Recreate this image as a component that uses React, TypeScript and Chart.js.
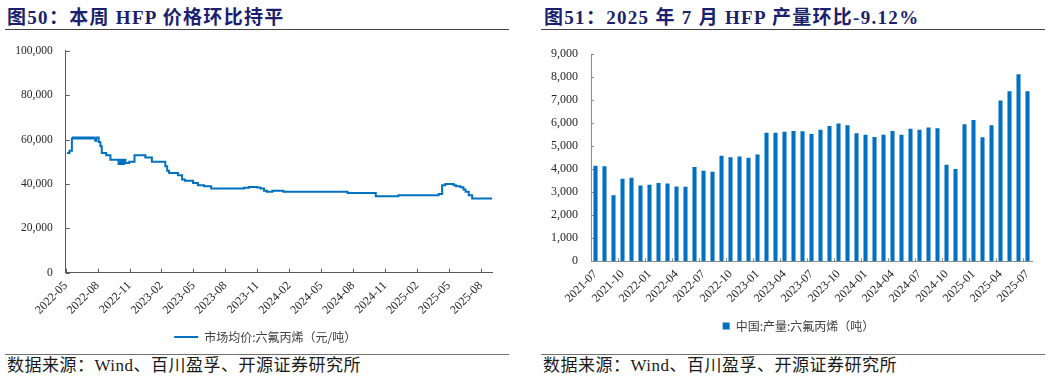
import React, { useEffect, useRef } from "react";
import { Chart, registerables } from "chart.js";

Chart.register(...registerables);

// ---------- Data: HFP market price (元/吨), change points ----------
const priceDates = [
  "2022-05-05", "2022-05-12", "2022-05-19", "2022-05-22", "2022-05-26", "2022-05-29",
  "2022-06-02", "2022-06-05", "2022-06-09", "2022-06-12", "2022-06-16", "2022-06-19",
  "2022-06-23", "2022-06-26", "2022-06-30", "2022-07-03", "2022-07-07", "2022-07-10",
  "2022-07-14", "2022-07-17", "2022-07-21", "2022-07-25", "2022-07-28", "2022-08-04",
  "2022-08-09", "2022-08-13", "2022-08-26", "2022-09-07", "2022-09-30", "2022-10-06",
  "2022-10-11", "2022-10-16", "2022-10-20", "2022-10-31", "2022-11-15", "2022-12-16",
  "2023-01-04", "2023-02-11", "2023-02-16", "2023-02-21", "2023-03-18", "2023-03-30",
  "2023-04-07", "2023-04-30", "2023-05-14", "2023-06-01", "2023-06-21", "2023-09-24",
  "2023-10-08", "2023-10-31", "2023-11-10", "2023-11-20", "2023-11-28", "2023-12-14",
  "2024-01-15", "2024-07-16", "2024-10-05", "2024-12-09", "2025-04-02", "2025-04-12",
  "2025-04-21", "2025-05-15", "2025-05-22", "2025-06-04", "2025-06-12", "2025-06-18",
  "2025-06-27", "2025-07-07", "2025-09-03",
];
const priceValues = [
  54000, 55000, 60500, 61000, 60500, 61000,
  60500, 61000, 60500, 61000, 60500, 61000,
  60500, 61000, 60500, 61000, 60500, 61000,
  60500, 61000, 60500, 59500, 61000, 59000,
  57000, 54000, 53000, 51000, 49000, 51000,
  49000, 51000, 49500, 50000, 53000, 52000,
  50000, 48000, 46000, 45000, 44000, 42000,
  41500, 40500, 39500, 39000, 38000, 38300,
  38700, 38400, 38000, 37000, 36500, 37000,
  36500, 36000, 34500, 35000, 35500, 39500,
  40000, 39500, 39000, 38500, 37500, 36500,
  35000, 33500, 33500,
];
const priceTickLabels = [
  "2022-05", "2022-08", "2022-11", "2023-02", "2023-05", "2023-08", "2023-11",
  "2024-02", "2024-05", "2024-08", "2024-11", "2025-02", "2025-05", "2025-08",
];
const priceLegend = "市场均价:六氟丙烯（元/吨）";

// ---------- Data: HFP monthly production (吨) ----------
const prodMonths = [
  "2021-07", "2021-08", "2021-09", "2021-10", "2021-11", "2021-12",
  "2022-01", "2022-02", "2022-03", "2022-04", "2022-05", "2022-06",
  "2022-07", "2022-08", "2022-09", "2022-10", "2022-11", "2022-12",
  "2023-01", "2023-02", "2023-03", "2023-04", "2023-05", "2023-06",
  "2023-07", "2023-08", "2023-09", "2023-10", "2023-11", "2023-12",
  "2024-01", "2024-02", "2024-03", "2024-04", "2024-05", "2024-06",
  "2024-07", "2024-08", "2024-09", "2024-10", "2024-11", "2024-12",
  "2025-01", "2025-02", "2025-03", "2025-04", "2025-05", "2025-06",
  "2025-07",
];
const prodValues = [
  4150, 4120, 2860, 3580, 3630, 3290,
  3320, 3400, 3370, 3240, 3230, 4090,
  3930, 3890, 4580, 4520, 4550, 4490,
  4640, 5580, 5580, 5620, 5660, 5640,
  5530, 5710, 5870, 5980, 5900, 5560,
  5490, 5400, 5490, 5660, 5490, 5750,
  5710, 5810, 5770, 4190, 4000, 5950,
  6130, 5380, 5910, 6980, 7380, 8120,
  7380,
];
const prodLegend = "中国:产量:六氟丙烯（吨）";

const BLUE = "#0070C0";
const SERIF = '"Liberation Serif", "Times New Roman", serif';
const CJK = '"Noto Sans CJK SC", sans-serif';

// months since 2022-05-01 (fractional)
function monthIndex(d: string): number {
  const [y, m, day] = d.split("-").map(Number);
  const dim = new Date(y, m, 0).getDate();
  return (y - 2022) * 12 + (m - 5) + (day - 1) / dim;
}

function inwardTicks(getX: (chart: any) => number[], color: string, len: number) {
  return {
    id: "inwardTicks",
    beforeDatasetsDraw(chart: any) {
      const { ctx, scales } = chart;
      const xs = scales.x;
      const ys = scales.y;
      ctx.save();
      ctx.strokeStyle = color;
      ctx.lineWidth = 1;
      ctx.beginPath();
      ys.ticks.forEach((_t: any, i: number) => {
        const py = Math.round(ys.getPixelForTick(i)) + 0.5;
        ctx.moveTo(ys.right, py);
        ctx.lineTo(ys.right + len, py);
      });
      const b = xs.top;
      getX(chart).forEach((px) => {
        const p = Math.round(px) + 0.5;
        ctx.moveTo(p, b);
        ctx.lineTo(p, b - len);
      });
      ctx.stroke();
      ctx.restore();
    },
  };
}

function shiftLegend(dx: number) {
  return {
    id: "shiftLegend",
    afterLayout(chart: any) {
      const l = chart.legend;
      if (l) {
        l.left += dx;
        l.right += dx;
      }
    },
  };
}

function PriceChart() {
  const ref = useRef<HTMLCanvasElement>(null);
  useEffect(() => {
    const points = priceDates.map((d, i) => ({ x: monthIndex(d), y: priceValues[i] }));
    const chart = new Chart(ref.current as HTMLCanvasElement, {
      type: "line",
      data: {
        datasets: [
          {
            label: priceLegend,
            data: points,
            borderColor: BLUE,
            backgroundColor: BLUE,
            borderWidth: 2,
            pointRadius: 0,
            stepped: true,
            fill: false,
          } as any,
        ],
      },
      options: {
        animation: false,
        responsive: false,
        devicePixelRatio: 1,
        layout: { padding: { left: 0, right: 20.5, top: 13.7, bottom: 0 } },
        plugins: {
          tooltip: { enabled: false },
          legend: {
            position: "bottom",
            labels: {
              usePointStyle: true,
              pointStyle: "line",
              pointStyleWidth: 24,
              boxWidth: 24,
              font: { size: 12, family: CJK },
              color: "#404040",
              padding: 10,
            },
          },
        },
        scales: {
          x: {
            type: "linear",
            min: 0,
            max: 40.1,
            afterBuildTicks: (s: any) => {
              s.ticks = priceTickLabels.map((_l, i) => ({ value: i * 3 }));
            },
            afterFit: (s: any) => {
              s.height = 48.2;
            },
            grid: { display: false, drawTicks: false },
            border: { display: true, color: "#595959", width: 1 },
            ticks: {
              autoSkip: false,
              minRotation: 45,
              maxRotation: 45,
              padding: 6,
              color: "#262626",
              font: { size: 12, family: SERIF },
              callback: (_v: any, i: number) => priceTickLabels[i],
            },
          },
          y: {
            min: 0,
            max: 100000,
            afterFit: (s: any) => {
              s.width = 65.7;
            },
            grid: { display: false, drawTicks: false },
            border: { display: true, color: "#595959", width: 1 },
            ticks: {
              stepSize: 20000,
              padding: 13,
              color: "#262626",
              font: { size: 11.5, family: SERIF },
              callback: (v: any) => Number(v).toLocaleString("en-US"),
            },
          },
        },
      },
      plugins: [
        inwardTicks(
          (c: any) => c.scales.x.ticks.map((t: any) => c.scales.x.getPixelForValue(t.value)),
          "#595959",
          4
        ) as any,
        shiftLegend(19) as any,
      ],
    });
    return () => chart.destroy();
  }, []);
  return (
    <canvas
      ref={ref}
      width={513}
      height={322}
      style={{ position: "absolute", left: 0, top: 31, width: 513, height: 322 }}
    />
  );
}

function ProdChart() {
  const ref = useRef<HTMLCanvasElement>(null);
  useEffect(() => {
    const chart = new Chart(ref.current as HTMLCanvasElement, {
      type: "bar",
      data: {
        labels: prodMonths,
        datasets: [
          {
            label: prodLegend,
            data: prodValues,
            backgroundColor: BLUE,
            borderWidth: 0,
            categoryPercentage: 1,
            barPercentage: 0.45,
          },
        ],
      },
      options: {
        animation: false,
        responsive: false,
        devicePixelRatio: 1,
        layout: { padding: { left: 0, right: 17, top: 23, bottom: 0 } },
        plugins: {
          tooltip: { enabled: false },
          legend: {
            position: "bottom",
            labels: {
              usePointStyle: true,
              pointStyle: "rect",
              boxWidth: 7,
              boxHeight: 7,
              font: { size: 12, family: CJK },
              color: "#404040",
              padding: 10,
            },
          },
        },
        scales: {
          x: {
            type: "category",
            offset: true,
            afterFit: (s: any) => {
              s.height = 48.8;
            },
            grid: { display: false, drawTicks: false, offset: true },
            border: { display: true, color: "#8c8c8c", width: 1 },
            ticks: {
              autoSkip: false,
              minRotation: 45,
              maxRotation: 45,
              padding: 6,
              color: "#262626",
              font: { size: 12, family: SERIF },
              callback: (_v: any, i: number) => (i % 3 === 0 ? prodMonths[i] : ""),
            },
          },
          y: {
            min: 0,
            max: 9000,
            afterFit: (s: any) => {
              s.width = 55;
            },
            grid: { display: false, drawTicks: false },
            border: { display: true, color: "#8c8c8c", width: 1 },
            ticks: {
              stepSize: 1000,
              padding: 13,
              color: "#262626",
              font: { size: 12, family: SERIF },
              callback: (v: any) => Number(v).toLocaleString("en-US"),
            },
          },
        },
      },
      plugins: [
        inwardTicks(
          (c: any) => {
            const out: number[] = [];
            for (let i = 3; i < prodMonths.length; i += 3) out.push(c.scales.x.getPixelForValue(i - 0.5));
            return out;
          },
          "#8c8c8c",
          3
        ) as any,
        shiftLegend(14.5) as any,
      ],
    });
    return () => chart.destroy();
  }, []);
  return (
    <canvas
      ref={ref}
      width={513}
      height={311}
      style={{ position: "absolute", left: 0, top: 31, width: 513, height: 311 }}
    />
  );
}

const titleStyle: React.CSSProperties = {
  position: "absolute",
  top: 7,
  fontFamily: `${SERIF.split(",")[0]}, ${CJK}`,
  fontWeight: 700,
  fontSize: 19,
  letterSpacing: 1.3,
  lineHeight: "22px",
  color: "#1B1F6E",
  whiteSpace: "nowrap",
};
const sourceStyle: React.CSSProperties = {
  position: "absolute",
  top: 355,
  fontFamily: `${SERIF.split(",")[0]}, ${CJK}`,
  fontSize: 17,
  letterSpacing: 0.5,
  lineHeight: "22px",
  color: "#1a1a1a",
  whiteSpace: "nowrap",
};
const rule = (top: number, color: string): React.CSSProperties => ({
  position: "absolute",
  left: 5,
  top,
  width: 504,
  height: 1,
  background: color,
});

export default function App() {
  return (
    <div
      style={{
        position: "absolute",
        left: 0,
        top: 0,
        width: 1057,
        height: 381,
        background: "#ffffff",
        overflow: "hidden",
      }}
    >
      <div style={{ position: "absolute", left: 0, top: 0, width: 528, height: 381 }}>
        <div style={{ ...titleStyle, left: 7 }}>图50：本周 HFP 价格环比持平</div>
        <div style={rule(29, "#404040")} />
        <PriceChart />
        <div style={rule(354, "#707070")} />
        <div style={{ ...sourceStyle, left: 7 }}>数据来源：Wind、百川盈孚、开源证券研究所</div>
      </div>
      <div style={{ position: "absolute", left: 536, top: 0, width: 521, height: 381 }}>
        <div style={{ ...titleStyle, left: 8 }}>图51：2025 年 7 月 HFP 产量环比-9.12%</div>
        <div style={rule(29, "#404040")} />
        <ProdChart />
        <div style={rule(354, "#707070")} />
        <div style={{ ...sourceStyle, left: 7 }}>数据来源：Wind、百川盈孚、开源证券研究所</div>
      </div>
    </div>
  );
}
